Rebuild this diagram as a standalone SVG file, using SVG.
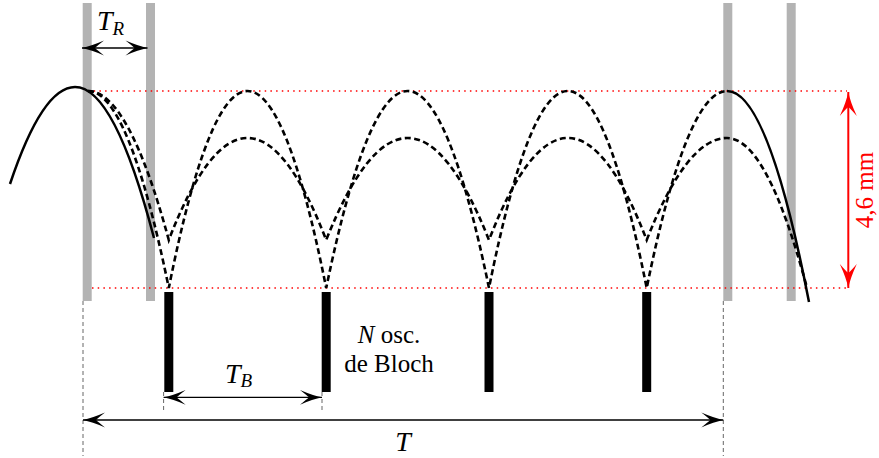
<svg xmlns="http://www.w3.org/2000/svg" width="879" height="458" viewBox="0 0 879 458">
<style>
.bar{fill:#b3b3b3}
.blk{fill:#000}
.ref{fill:none;stroke:#ff0000;stroke-width:1.5;stroke-dasharray:1.5 4.2}
.guide{fill:none;stroke:#666;stroke-width:1;stroke-dasharray:4 3}
.traj{fill:none;stroke:#000;stroke-width:2.5}
.dash{fill:none;stroke:#000;stroke-width:2.6;stroke-dasharray:6 3.5}
.arr{fill:none;stroke:#000;stroke-width:1.3}
.txt{font-family:"Liberation Serif","Times New Roman","DejaVu Serif",serif;font-size:25px;fill:#000}
.big{font-size:28px}
.sub{font-size:19px}
.it{font-style:italic}
</style>
<defs>
<marker id="ah" markerUnits="userSpaceOnUse" markerWidth="26" markerHeight="18" refX="23" refY="9" orient="auto-start-reverse">
<path d="M23,9 Q14,7.2 1,1.6 Q8,7 10,9 Q8,11 1,16.4 Q14,10.8 23,9 Z" fill="#000"/>
</marker>
<marker id="ahr" markerUnits="userSpaceOnUse" markerWidth="26" markerHeight="20" refX="24" refY="10" orient="auto-start-reverse">
<path d="M24,10 Q14,8 0,1.5 Q7,7.5 9,10 Q7,12.5 0,18.5 Q14,12 24,10 Z" fill="#ff0000"/>
</marker>
</defs>

<g id="bars-raman">
<rect class="bar" x="82.7" y="3" width="9" height="298"/>
<rect class="bar" x="146" y="3" width="9" height="298"/>
<rect class="bar" x="723.3" y="3" width="9" height="298"/>
<rect class="bar" x="786.7" y="3" width="9" height="298"/>
</g>

<g id="bars-bloch">
<rect class="blk" x="164.3" y="292" width="9" height="100"/>
<rect class="blk" x="321.7" y="292" width="9" height="100"/>
<rect class="blk" x="484.5" y="292" width="9" height="100"/>
<rect class="blk" x="642.2" y="292" width="9" height="100"/>
</g>

<g id="reference-lines">
<line class="ref" x1="88" y1="91" x2="847" y2="91"/>
<line class="ref" x1="92" y1="288" x2="847" y2="288"/>
</g>

<g id="trajectories">
<path class="traj" d="M10,184 Q42.5,87 75,87 Q114.5,87 154,238"/>
<path class="traj" d="M727,91 Q768,91 809,302"/>
<path class="dash" d="M88,91 Q128.4,91 168.8,288 Q247.5,-106 326.2,288 Q407.6,-106 489,288 Q567.9,-106 646.7,288 Q686.85,91 727,91"/>
<path class="dash" d="M88,91 Q128.4,91 168.8,240 Q247.5,36 326.2,240 Q407.6,36 489,240 Q567.9,36 646.7,240 Q686.85,138 727,138 Q767,138 807,288"/>
</g>

<g id="connectors">
<line class="guide" x1="83" y1="301" x2="83" y2="456"/>
<line class="guide" x1="723.3" y1="301" x2="723.3" y2="456"/>
<line class="guide" x1="163.6" y1="392" x2="163.6" y2="410"/>
<line class="guide" x1="322" y1="392" x2="322" y2="410"/>
<line class="arr" x1="82" y1="48" x2="147.5" y2="48" marker-start="url(#ah)" marker-end="url(#ah)"/>
<line class="arr" x1="163.6" y1="397.3" x2="322" y2="397.3" marker-start="url(#ah)" marker-end="url(#ah)"/>
<line class="arr" x1="83" y1="420" x2="723.3" y2="420" marker-start="url(#ah)" marker-end="url(#ah)"/>
<line x1="848.3" y1="92" x2="848.3" y2="288" stroke="#ff0000" stroke-width="2" marker-start="url(#ahr)" marker-end="url(#ahr)"/>
</g>

<g id="labels">
<text class="txt big" x="97" y="30"><tspan class="it">T</tspan><tspan class="it sub" dy="5">R</tspan></text>
<text class="txt big" x="225" y="383"><tspan class="it">T</tspan><tspan class="it sub" dy="4">B</tspan></text>
<text class="txt big it" x="403" y="451" text-anchor="middle">T</text>
<text class="txt" x="389" y="343" text-anchor="middle"><tspan class="it">N</tspan> osc.</text>
<text class="txt" x="389" y="372" text-anchor="middle">de Bloch</text>
<text class="txt" x="873" y="190" text-anchor="middle" style="fill:#ff0000" transform="rotate(-90 873 190)">4,6 mm</text>
</g>
</svg>
